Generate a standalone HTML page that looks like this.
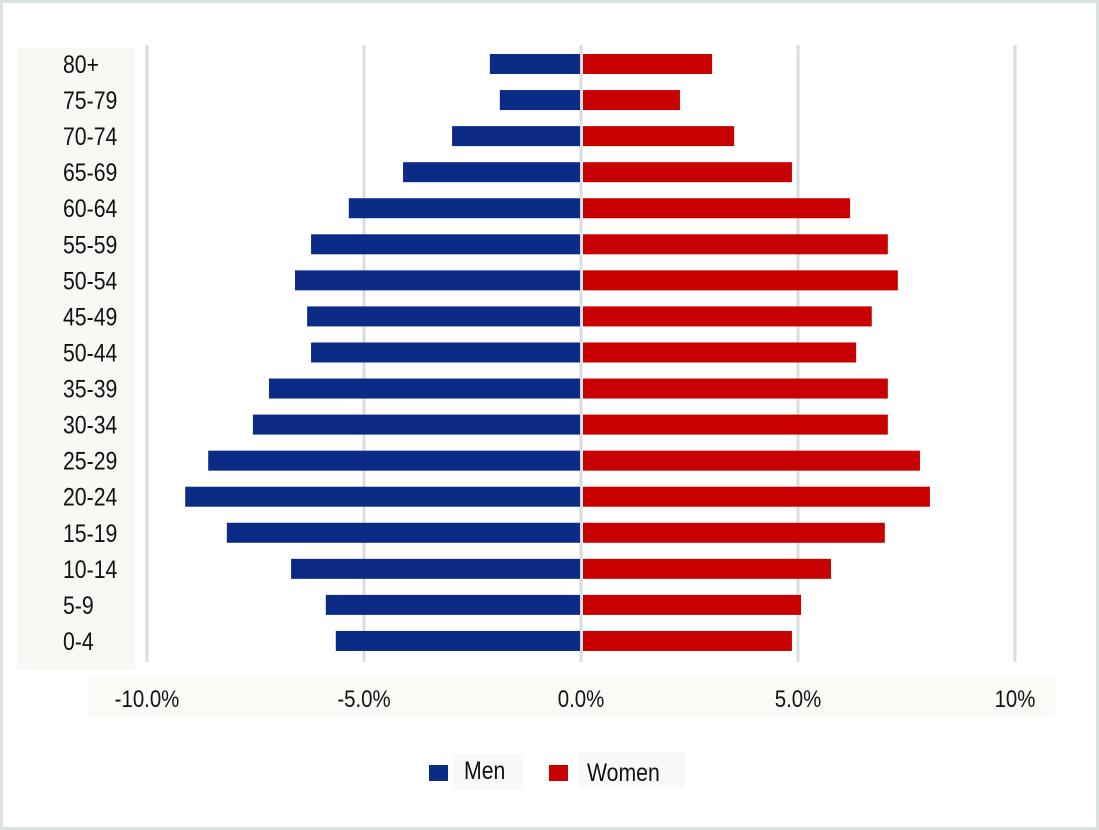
<!DOCTYPE html>
<html><head><meta charset="utf-8"><style>
body{margin:0;background:#fff}
svg{display:block}
text{font-family:"Liberation Sans",sans-serif;fill:#111}
</style></head><body>
<svg width="1099" height="830">
<rect x="1.5" y="1.5" width="1096" height="827" fill="#fff" stroke="#dbe3e0" stroke-width="3"/>
<rect x="17" y="48" width="118" height="622" fill="#f8f9f4"/>
<rect x="88" y="678" width="967" height="40" fill="#fafbf6"/>
<g id="grid"></g><g id="bars"></g><g id="ylabels"></g><g id="xlabels"></g>
<g>
<rect x="453" y="754" width="70" height="36" fill="#f8f8f8"/>
<rect x="429" y="765" width="19" height="16" fill="#0c2b87"/>
<text transform="translate(464,779) scale(0.85,1)" font-size="25">Men</text>
<rect x="578" y="752" width="107" height="36" fill="#f8f8f8"/>
<rect x="549" y="765" width="19" height="16" fill="#c90000"/>
<text transform="translate(587,781) scale(0.85,1)" font-size="25">Women</text>
</g>
</svg>
<script>
const ageGroups=["80+","75-79","70-74","65-69","60-64","55-59","50-54","45-49","50-44","35-39","30-34","25-29","20-24","15-19","10-14","5-9","0-4"];
const menValues=[2.1,1.87,2.97,4.1,5.35,6.22,6.59,6.31,6.22,7.19,7.56,8.59,9.12,8.16,6.68,5.88,5.65];
const womenValues=[3.02,2.28,3.53,4.86,6.2,7.07,7.3,6.7,6.34,7.07,7.07,7.81,8.04,7.0,5.76,5.07,4.86];
const xTicks=[-10,-5,0,5,10];
const xTickLabels=["-10.0%","-5.0%","0.0%","5.0%","10%"];
const NS="http://www.w3.org/2000/svg";
const x=v=>581+v*43.4;
const y=i=>64+i*36.06;
function mk(p,tag,attrs){const e=document.createElementNS(NS,tag);for(const k in attrs)e.setAttribute(k,attrs[k]);document.getElementById(p).appendChild(e);return e;}
xTicks.forEach((t,i)=>{
  const g=mk('grid','line',{x1:x(t),x2:x(t),y1:45,y2:662,stroke:'#d7dedc','stroke-width':3});
  
  
  const l=mk('xlabels','text',{transform:'translate('+x(t)+',707) scale(0.85,1)','font-size':24,'text-anchor':'middle'});
  l.textContent=xTickLabels[i];
  
  
});
ageGroups.forEach((a,i)=>{
  const m=mk('bars','rect',{x:x(-menValues[i]),y:y(i)-10,width:x(0)-x(-menValues[i])-1,height:20,fill:'#0c2b87'});
  
  
  const w=mk('bars','rect',{x:x(0)+2,y:y(i)-10,width:x(womenValues[i])-x(0)-2,height:20,fill:'#c90000'});
  
  
  const t=mk('ylabels','text',{transform:'translate(63,'+(y(i)+9)+') scale(0.85,1)','font-size':25});
  t.textContent=a;
  
  
});
</script>
</body></html>
